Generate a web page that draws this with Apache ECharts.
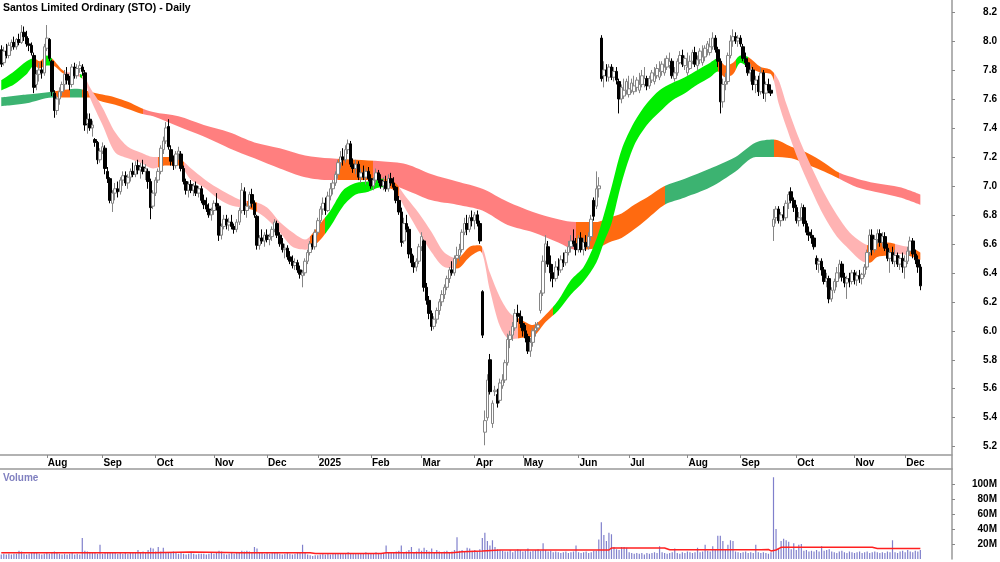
<!DOCTYPE html>
<html><head><meta charset="utf-8">
<script src="https://cdn.jsdelivr.net/npm/echarts@6/dist/echarts.min.js"></script>
<style>html,body{margin:0;padding:0;background:#fff}#c{width:1000px;height:562px}</style>
</head><body><div id="c"></div>
<script>
const monthLabels = ['Aug','Sep','Oct','Nov','Dec','2025','Feb','Mar','Apr','May','Jun','Jul','Aug','Sep','Oct','Nov','Dec'];
const monthStarts = [18,40,61,84,105,125,146,166,187,206,228,248,271,292,314,337,357];
const priceTicks = [5.2,5.4,5.6,5.8,6.0,6.2,6.4,6.6,6.8,7.0,7.2,7.4,7.6,7.8,8.0,8.2];
const volumeTicks = [20,40,60,80,100];

const opens = [
7.94,7.85,7.93,7.90,7.96,7.99,7.96,8.01,7.99,8.06,
8.03,7.98,7.97,7.90,7.70,7.77,7.80,7.78,7.95,8.01,
7.86,7.64,7.52,7.60,7.65,7.70,7.77,7.73,7.70,7.82,
7.76,7.81,7.82,7.78,7.43,7.46,7.40,7.32,7.30,7.18,
7.24,7.26,7.10,7.05,6.88,6.95,6.98,6.96,7.04,7.07,
7.02,7.06,7.10,7.08,7.14,7.11,7.13,7.10,7.10,7.03,
6.86,6.95,7.04,7.10,7.25,7.31,7.41,7.25,7.17,7.14,
7.22,7.22,7.12,7.03,6.97,7.01,6.97,7.00,6.95,6.98,
6.90,6.87,6.84,6.80,6.83,6.88,6.86,6.66,6.72,6.77,
6.73,6.75,6.72,6.70,6.75,6.83,6.96,6.83,6.86,6.94,
6.88,6.79,6.59,6.64,6.62,6.66,6.63,6.65,6.70,6.74,
6.66,6.60,6.56,6.57,6.51,6.48,6.45,6.47,6.42,6.38,
6.40,6.48,6.54,6.60,6.58,6.68,6.76,6.84,6.88,6.83,
6.93,6.98,7.02,7.08,7.16,7.20,7.18,7.25,7.29,7.15,
7.12,7.15,7.06,7.09,7.06,7.10,7.05,7.00,7.04,7.09,
7.04,7.00,7.03,6.98,7.05,7.02,6.99,6.90,6.82,6.62,
6.74,6.70,6.53,6.47,6.44,6.48,6.58,6.62,6.30,6.21,
6.12,6.03,6.08,6.14,6.20,6.25,6.30,6.36,6.42,6.40,
6.50,6.52,6.56,6.68,6.74,6.70,6.78,6.76,6.80,6.74,
6.27,5.30,5.40,5.80,5.36,5.58,5.56,5.52,5.62,5.66,
5.78,5.94,5.97,6.02,6.12,6.10,6.05,6.00,5.96,5.86,
5.92,6.00,6.02,6.14,6.26,6.48,6.58,6.46,6.40,6.36,
6.44,6.42,6.49,6.47,6.54,6.58,6.62,6.60,6.56,6.64,
6.56,6.61,6.58,6.65,6.90,6.86,6.98,8.02,7.76,7.80,
7.75,7.82,7.75,7.79,7.72,7.60,7.62,7.66,7.63,7.66,
7.65,7.68,7.66,7.70,7.70,7.74,7.69,7.73,7.72,7.76,
7.75,7.79,7.78,7.82,7.83,7.86,7.74,7.78,7.85,7.90,
7.83,7.78,7.81,7.86,7.92,7.83,7.87,7.85,7.89,7.94,
7.92,7.96,8.02,7.94,7.86,7.58,7.70,7.72,7.90,8.00,
8.03,8.00,8.02,7.96,7.88,7.85,7.78,7.80,7.70,7.73,
7.65,7.78,7.64,7.70,7.66,6.72,6.78,6.84,6.76,6.80,
6.78,6.88,6.96,6.90,6.85,6.76,6.78,6.85,6.74,6.68,
6.66,6.64,6.50,6.46,6.48,6.42,6.34,6.36,6.22,6.28,
6.34,6.40,6.46,6.37,6.33,6.36,6.34,6.40,6.35,6.38,
6.36,6.39,6.44,6.54,6.66,6.56,6.63,6.67,6.61,6.65,
6.57,6.50,6.54,6.48,6.52,6.46,6.50,6.44,6.48,6.55,
6.62,6.53,6.49,6.44];
const highs = [
7.97,7.96,7.98,7.99,8.01,8.03,8.02,8.05,8.11,8.10,
8.07,8.02,7.99,7.92,7.80,7.85,7.86,7.98,8.11,8.02,
7.87,7.66,7.62,7.68,7.72,7.80,7.82,7.76,7.84,7.85,
7.84,7.86,7.84,7.80,7.50,7.50,7.45,7.33,7.31,7.26,
7.30,7.28,7.13,7.06,6.97,7.02,7.03,7.06,7.10,7.10,
7.08,7.12,7.16,7.17,7.18,7.16,7.18,7.15,7.12,7.05,
6.97,7.06,7.12,7.28,7.34,7.44,7.46,7.28,7.21,7.24,
7.27,7.24,7.14,7.05,7.03,7.04,7.02,7.03,7.00,7.00,
6.94,6.92,6.88,6.85,6.90,6.95,6.88,6.74,6.80,6.80,
6.78,6.80,6.74,6.77,6.85,7.02,6.99,6.88,6.96,6.98,
6.90,6.80,6.66,6.70,6.68,6.70,6.67,6.72,6.77,6.76,
6.68,6.64,6.60,6.59,6.55,6.52,6.50,6.49,6.45,6.42,
6.50,6.56,6.62,6.66,6.70,6.78,6.86,6.92,6.92,6.96,
7.02,7.04,7.10,7.18,7.24,7.26,7.28,7.32,7.31,7.19,
7.18,7.17,7.12,7.14,7.12,7.13,7.08,7.06,7.12,7.11,
7.08,7.06,7.07,7.08,7.09,7.06,7.00,6.93,6.85,6.78,
6.80,6.72,6.57,6.52,6.50,6.60,6.68,6.63,6.33,6.24,
6.14,6.10,6.16,6.22,6.28,6.32,6.38,6.44,6.48,6.52,
6.58,6.60,6.70,6.78,6.80,6.80,6.83,6.82,6.83,6.76,
6.28,5.45,5.70,5.84,5.52,5.62,5.60,5.67,5.70,5.80,
5.98,6.00,6.06,6.15,6.18,6.14,6.10,6.04,5.98,5.95,
6.02,6.06,6.06,6.28,6.52,6.66,6.62,6.52,6.46,6.48,
6.50,6.52,6.54,6.56,6.62,6.66,6.70,6.64,6.66,6.68,
6.64,6.66,6.68,6.80,6.92,7.10,7.06,8.04,7.86,7.84,
7.84,7.84,7.82,7.82,7.74,7.70,7.74,7.74,7.76,7.74,
7.76,7.75,7.78,7.80,7.82,7.76,7.76,7.80,7.82,7.84,
7.86,7.86,7.88,7.90,7.92,7.88,7.82,7.88,7.93,7.94,
7.90,7.92,7.90,7.94,7.96,7.90,7.95,7.97,7.97,8.00,
8.02,8.06,8.04,7.96,7.88,7.74,7.78,7.92,8.04,8.08,
8.06,8.04,8.04,7.98,7.92,7.88,7.84,7.82,7.76,7.76,
7.82,7.80,7.72,7.74,7.70,6.84,6.86,6.86,6.82,6.86,
6.90,6.96,6.99,6.92,6.87,6.82,6.88,6.87,6.76,6.72,
6.70,6.66,6.52,6.50,6.50,6.44,6.40,6.38,6.30,6.36,
6.44,6.49,6.48,6.40,6.38,6.40,6.42,6.42,6.41,6.42,
6.40,6.46,6.56,6.70,6.70,6.66,6.70,6.70,6.68,6.68,
6.60,6.56,6.58,6.56,6.54,6.52,6.54,6.52,6.58,6.65,
6.64,6.56,6.52,6.46];
const lows = [
7.82,7.83,7.88,7.88,7.93,7.94,7.94,7.97,7.98,8.00,
7.96,7.93,7.90,7.64,7.66,7.72,7.74,7.76,7.93,7.86,
7.62,7.47,7.49,7.56,7.62,7.66,7.70,7.66,7.68,7.74,
7.74,7.78,7.76,7.38,7.36,7.38,7.34,7.27,7.15,7.16,
7.22,7.08,7.02,6.88,6.82,6.90,6.92,6.94,7.00,7.00,
6.98,7.03,7.06,7.06,7.08,7.05,7.08,7.04,6.98,6.77,
6.84,6.93,7.02,7.08,7.22,7.29,7.25,7.14,7.11,7.12,
7.18,7.10,7.01,6.94,6.92,6.95,6.93,6.93,6.92,6.88,
6.84,6.82,6.78,6.76,6.80,6.83,6.62,6.63,6.70,6.70,
6.69,6.70,6.67,6.68,6.73,6.81,6.80,6.78,6.84,6.85,
6.78,6.56,6.56,6.60,6.58,6.61,6.59,6.62,6.68,6.64,
6.58,6.54,6.50,6.49,6.46,6.43,6.42,6.40,6.36,6.30,
6.38,6.46,6.52,6.56,6.56,6.66,6.74,6.80,6.80,6.82,
6.90,6.94,7.00,7.05,7.12,7.14,7.16,7.22,7.13,7.09,
7.08,7.04,7.02,7.04,7.01,7.03,6.98,6.97,7.02,7.02,
6.98,6.97,6.96,6.96,7.00,6.97,6.88,6.80,6.58,6.60,
6.68,6.50,6.44,6.40,6.41,6.46,6.55,6.27,6.18,6.08,
6.00,6.01,6.05,6.11,6.17,6.22,6.28,6.33,6.38,6.38,
6.46,6.48,6.54,6.66,6.66,6.68,6.72,6.70,6.72,6.60,
5.95,5.21,5.38,5.56,5.33,5.55,5.47,5.50,5.60,5.64,
5.76,5.88,5.93,6.00,6.06,6.02,5.96,5.92,5.84,5.82,
5.89,5.96,6.00,6.12,6.24,6.40,6.44,6.34,6.30,6.34,
6.38,6.40,6.44,6.45,6.52,6.54,6.58,6.52,6.54,6.54,
6.52,6.55,6.56,6.62,6.76,6.84,6.92,7.72,7.68,7.72,
7.72,7.73,7.72,7.70,7.50,7.57,7.60,7.63,7.61,7.64,
7.63,7.65,7.64,7.68,7.68,7.66,7.67,7.71,7.70,7.74,
7.73,7.76,7.76,7.80,7.81,7.74,7.72,7.76,7.84,7.82,
7.80,7.76,7.80,7.84,7.82,7.80,7.84,7.83,7.86,7.90,
7.90,7.94,7.92,7.82,7.50,7.54,7.66,7.70,7.88,7.96,
7.98,7.96,7.96,7.86,7.82,7.76,7.72,7.66,7.64,7.62,
7.63,7.60,7.58,7.64,7.62,6.62,6.74,6.74,6.72,6.76,
6.76,6.84,6.88,6.82,6.74,6.72,6.76,6.72,6.66,6.62,
6.60,6.56,6.42,6.40,6.38,6.32,6.30,6.19,6.20,6.26,
6.30,6.36,6.34,6.30,6.22,6.30,6.32,6.32,6.31,6.33,
6.32,6.37,6.42,6.52,6.52,6.54,6.60,6.58,6.58,6.55,
6.48,6.40,6.46,6.44,6.44,6.42,6.40,6.36,6.46,6.52,
6.50,6.46,6.40,6.28];
const closes = [
7.84,7.93,7.90,7.97,7.99,7.96,8.01,7.99,8.06,8.03,
7.98,7.97,7.92,7.68,7.77,7.80,7.78,7.96,8.02,7.88,
7.65,7.52,7.60,7.65,7.70,7.77,7.73,7.70,7.82,7.76,
7.81,7.83,7.79,7.42,7.46,7.40,7.42,7.30,7.18,7.24,
7.27,7.12,7.05,6.90,6.95,6.98,6.96,7.04,7.07,7.02,
7.06,7.10,7.08,7.14,7.11,7.13,7.10,7.12,7.03,6.85,
6.95,7.04,7.10,7.26,7.31,7.40,7.27,7.17,7.14,7.22,
7.24,7.12,7.03,6.97,7.01,6.97,7.00,6.95,6.98,6.90,
6.87,6.84,6.80,6.83,6.88,6.86,6.66,6.72,6.77,6.73,
6.75,6.72,6.70,6.75,6.83,6.97,6.83,6.86,6.94,6.88,
6.80,6.59,6.64,6.62,6.66,6.63,6.65,6.70,6.75,6.66,
6.60,6.56,6.57,6.51,6.48,6.45,6.47,6.42,6.39,6.40,
6.48,6.54,6.60,6.58,6.68,6.76,6.84,6.88,6.83,6.93,
6.98,7.02,7.08,7.16,7.20,7.18,7.25,7.29,7.15,7.12,
7.15,7.06,7.09,7.06,7.10,7.05,7.00,7.04,7.09,7.04,
7.00,7.03,6.98,7.05,7.02,6.99,6.90,6.82,6.61,6.74,
6.70,6.53,6.47,6.44,6.48,6.58,6.65,6.30,6.21,6.12,
6.03,6.08,6.14,6.20,6.25,6.30,6.36,6.42,6.40,6.50,
6.52,6.56,6.68,6.74,6.70,6.78,6.76,6.80,6.74,6.62,
5.97,5.38,5.66,5.58,5.50,5.59,5.50,5.64,5.66,5.78,
5.94,5.97,6.03,6.12,6.10,6.05,6.00,5.95,5.86,5.92,
6.00,6.02,6.04,6.26,6.48,6.60,6.46,6.40,6.36,6.44,
6.42,6.49,6.47,6.54,6.58,6.62,6.60,6.56,6.64,6.56,
6.61,6.58,6.65,6.77,6.79,6.98,7.00,7.74,7.80,7.76,
7.82,7.75,7.79,7.73,7.60,7.68,7.66,7.72,7.67,7.71,
7.69,7.73,7.70,7.76,7.74,7.69,7.74,7.78,7.76,7.81,
7.79,7.84,7.82,7.88,7.86,7.76,7.78,7.86,7.90,7.84,
7.88,7.82,7.86,7.92,7.84,7.87,7.93,7.89,7.95,7.98,
7.96,8.02,7.94,7.86,7.58,7.70,7.72,7.90,8.00,8.03,
8.00,8.02,7.98,7.88,7.85,7.78,7.80,7.70,7.73,7.65,
7.78,7.64,7.70,7.66,7.64,6.77,6.84,6.76,6.80,6.78,
6.88,6.94,6.90,6.85,6.76,6.78,6.85,6.74,6.68,6.66,
6.64,6.58,6.46,6.48,6.42,6.34,6.36,6.22,6.28,6.34,
6.40,6.46,6.37,6.33,6.36,6.34,6.40,6.35,6.38,6.36,
6.39,6.44,6.54,6.66,6.56,6.63,6.67,6.61,6.65,6.57,
6.50,6.54,6.48,6.52,6.46,6.50,6.44,6.48,6.55,6.62,
6.53,6.49,6.44,6.31];

// volume in millions of shares
const volumes = [
6,7,6,7,6,7,7,11,10,7, 6,7,9,9,8,7,6,7,8,7, 8,10,8,7,6,7,6,7,8,6, 7,6,28,11,10,8,8,9,7,19,
7,8,9,8,9,8,7,8,7,8, 7,9,8,9,12,9,10,9,12,15, 14,10,16,10,15,9,8,9,10,8, 7,8,7,6,7,8,7,6,7,7,
7,6,7,8,7,8,11,10,7,6, 7,8,7,8,9,11,10,11,10,9, 16,14,9,8,7,8,7,8,9,8, 7,6,7,8,7,6,7,8,9,19,
8,6,5,4,5,5,6,7,6,7, 6,7,8,7,8,7,8,9,8,7, 8,7,8,7,9,8,7,8,9,8, 7,8,18,9,8,9,10,11,18,9,
10,12,16,9,10,14,11,15,12,10, 14,9,12,10,9,10,11,9,10,12, 29,11,12,10,15,14,11,12,10,13, 28,35,24,18,25,16,13,12,11,10,
10,12,9,11,13,12,10,11,14,10, 11,12,13,11,21,12,10,11,9,10, 9,8,9,10,8,9,10,18,9,8, 9,10,8,9,11,11,26,49,32,24,
35,33,16,13,12,16,16,15,9,8, 7,8,7,8,6,8,7,8,9,8, 17,9,8,7,8,9,14,8,7,9, 8,10,9,8,9,15,9,10,19,11,
10,17,12,31,31,24,12,19,25,24, 10,9,8,9,10,8,9,8,19,9, 8,9,8,7,9,109,40,14,24,27, 25,23,13,21,12,19,20,11,12,10,
11,10,12,10,17,11,12,13,10,9, 8,10,11,9,8,10,9,8,9,10, 8,9,10,8,9,10,9,8,9,8, 10,9,25,9,8,10,11,9,12,10,
9,11,10,12];
// volume moving average (M) read at points [day, value]
const volumeAvg = [[0,8.4],[60,8.4],[75,9.2],[95,8.4],[122,8.4],[124,7.4],[150,7.4],[152,8.4],[178,8.4],[182,9.6],[190,10.7],[197,12],[240,12],[241,14.7],[262,14.7],[264,12.4],[300,12.4],[303,12.8],[304,10.7],[306,12],[308,15.6],[344,15.6],[346,14],[363,14]];

// ribbons [day, upper, lower]
const shortRibbon = [[0,7.73,7.66],[5,7.79,7.70],[10,7.86,7.77],[13,7.88,7.83],[15,7.86,7.81],[18,7.90,7.83],[20,7.88,7.83],[25,7.79,7.77],[30,7.78,7.76],[33,7.75,7.72],[35,7.68,7.61],[40,7.54,7.42],[45,7.37,7.23],[50,7.27,7.19],[55,7.23,7.16],[60,7.20,7.12],[65,7.20,7.14],[70,7.19,7.14],[75,7.12,7.04],[80,7.05,6.99],[85,6.99,6.92],[90,6.94,6.87],[95,6.90,6.85],[100,6.89,6.83],[105,6.85,6.77],[110,6.75,6.68],[115,6.68,6.58],[120,6.63,6.56],[125,6.72,6.61],[130,6.83,6.72],[135,6.97,6.86],[140,7.02,6.94],[145,7.03,6.96],[150,7.05,6.99],[155,7.03,6.97],[160,6.92,6.83],[165,6.81,6.68],[170,6.68,6.54],[175,6.54,6.44],[180,6.50,6.43],[185,6.58,6.51],[189,6.59,6.55],[193,6.40,6.28],[197,6.23,6.03],[201,6.12,5.94],[205,6.08,5.95],[210,6.04,5.96],[215,6.11,6.06],[220,6.21,6.14],[225,6.35,6.25],[230,6.44,6.34],[235,6.63,6.47],[238,6.80,6.61],[241,6.99,6.74],[245,7.25,7.02],[250,7.44,7.28],[255,7.57,7.42],[260,7.66,7.51],[265,7.71,7.59],[270,7.75,7.64],[275,7.80,7.70],[280,7.85,7.75],[283,7.88,7.79],[286,7.83,7.75],[289,7.85,7.77],[292,7.90,7.85],[295,7.89,7.82],[300,7.82,7.78],[304,7.80,7.77],[307,7.73,7.57],[310,7.57,7.41],[315,7.33,7.17],[320,7.13,6.97],[325,6.95,6.79],[330,6.80,6.65],[335,6.68,6.56],[340,6.61,6.48],[343,6.59,6.47],[346,6.61,6.51],[350,6.61,6.52],[355,6.59,6.53],[360,6.57,6.51],[363,6.54,6.49]];
const longRibbon = [[0,7.61,7.55],[10,7.63,7.57],[20,7.65,7.61],[30,7.67,7.61],[35,7.65,7.61],[40,7.63,7.58],[45,7.61,7.56],[50,7.58,7.53],[55,7.54,7.50],[60,7.51,7.48],[70,7.48,7.41],[80,7.42,7.34],[90,7.37,7.26],[100,7.30,7.19],[110,7.26,7.12],[120,7.21,7.06],[130,7.19,7.04],[140,7.18,7.04],[150,7.17,7.03],[160,7.15,6.97],[170,7.08,6.90],[180,7.03,6.87],[190,6.98,6.83],[200,6.89,6.73],[210,6.82,6.68],[220,6.77,6.61],[227,6.75,6.56],[235,6.75,6.57],[240,6.78,6.61],[245,6.81,6.64],[250,6.87,6.70],[255,6.92,6.77],[262,7.00,6.87],[270,7.05,6.92],[280,7.12,6.99],[290,7.20,7.10],[298,7.30,7.20],[305,7.32,7.20],[312,7.27,7.19],[318,7.23,7.15],[325,7.16,7.10],[331,7.09,7.05],[338,7.05,6.99],[345,7.02,6.96],[355,6.99,6.92],[363,6.94,6.87]];
// trend phases [first day, state]
const shortPhases = [[0,'up'],[13,'mix'],[17,'up'],[20,'mix'],[25,'down'],[31,'up'],[32,'down'],[62,'mix'],[72,'down'],[97,'mix'],[101,'down'],[122,'mix'],[128,'up'],[151,'mix'],[157,'down'],[179,'mix'],[190,'down'],[204,'mix'],[218,'up'],[283,'mix'],[290,'up'],[295,'mix'],[305,'down'],[342,'mix'],[353,'down'],[358,'mix']];
const longPhases = [[0,'up'],[21,'mix'],[27,'up'],[32,'mix'],[56,'down'],[133,'mix'],[147,'down'],[227,'mix'],[262,'up'],[305,'mix'],[331,'down']];

const shortColors = {up:'#00ee00', down:'#ffb3b3', mix:'#ff6a10'};
const longColors = {up:'#3cb371', down:'#ff7f7f', mix:'#ff6a10'};

const slotCount = 376;
const FONT = 'Liberation Sans, Arial, sans-serif';
const xCats = Array.from({length: slotCount}, () => '');
monthStarts.forEach((s, k) => { xCats[s] = monthLabels[k]; });
const monthSet = new Set(monthStarts);
const candleData = opens.map((o, i) => [o, closes[i], lows[i], highs[i]]);
const lowerOf = rows => rows.map(r => [r[0], r[2]]);
const widthOf = rows => rows.map(r => [r[0], +(r[1] - r[2]).toFixed(4)]);
const pieces = (phases, colors) => phases.map((p, k) => ({
  gte: p[0], lt: k + 1 < phases.length ? phases[k + 1][0] : slotCount, color: colors[p[1]]
}));

const chart = echarts.init(document.getElementById('c'), null, {renderer: 'canvas'});
const grayLine = {color: '#999999', width: 1.5};
const labelBase = {color: '#000', fontSize: 10, fontWeight: 'bold', fontFamily: FONT};
const ribbonBase = {type: 'line', xAxisIndex: 0, yAxisIndex: 0, symbol: 'none', showSymbol: false,
  smooth: 0.3, silent: true, animation: false};

chart.setOption({
  animation: false,
  backgroundColor: '#ffffff',
  title: [
    {text: 'Santos Limited Ordinary (STO) - Daily', left: 3, top: 3, padding: 0,
     textStyle: {fontSize: 10.5, fontWeight: 'bold', color: '#000', fontFamily: FONT}},
    {text: 'Volume', left: 3, top: 473, padding: 0,
     textStyle: {fontSize: 10, fontWeight: 'bold', color: '#8080c0', fontFamily: FONT}}
  ],
  grid: [
    {left: 0, right: 48, top: 0, bottom: 93, outerBoundsMode: 'none', containLabel: false},
    {left: 0, right: 48, top: 469, bottom: 3, outerBoundsMode: 'none', containLabel: false}
  ],
  xAxis: [
    {type: 'category', gridIndex: 0, data: xCats, boundaryGap: true, position: 'bottom', offset: -14,
     axisLine: {show: true, onZero: false, lineStyle: grayLine},
     axisTick: {show: true, alignWithLabel: true, length: 3, interval: (i) => monthSet.has(i), lineStyle: {color: '#888'}},
     axisLabel: Object.assign({interval: 0, align: 'left', margin: 3, padding: [0, 0, 0, 1]}, labelBase),
     splitLine: {show: false}},
    {type: 'category', gridIndex: 1, data: xCats, boundaryGap: true, position: 'top',
     axisLine: {show: true, onZero: false, lineStyle: grayLine},
     axisTick: {show: false}, axisLabel: {show: false}, splitLine: {show: false}}
  ],
  yAxis: [
    {type: 'value', gridIndex: 0, position: 'right', min: 5.0461, max: 8.2828, scale: true,
     axisLine: {show: true, lineStyle: grayLine},
     axisTick: {show: true, length: 3, customValues: priceTicks, lineStyle: {color: '#888'}},
     axisLabel: Object.assign({customValues: priceTicks, formatter: v => v.toFixed(1), align: 'right', margin: 45}, labelBase),
     splitLine: {show: false}},
    {type: 'value', gridIndex: 1, position: 'right', min: 0, max: 120,
     axisLine: {show: true, lineStyle: grayLine},
     axisTick: {show: true, length: 3, customValues: volumeTicks, lineStyle: {color: '#888'}},
     axisLabel: Object.assign({customValues: volumeTicks, formatter: v => v + 'M', align: 'right', margin: 45}, labelBase),
     splitLine: {show: false}}
  ],
  visualMap: [
    {type: 'piecewise', show: false, dimension: 0, seriesIndex: 1, pieces: pieces(longPhases, longColors)},
    {type: 'piecewise', show: false, dimension: 0, seriesIndex: 3, pieces: pieces(shortPhases, shortColors)}
  ],
  series: [
    Object.assign({}, ribbonBase, {name: 'longLow', stack: 'long', data: lowerOf(longRibbon), lineStyle: {opacity: 0}, z: 1}),
    Object.assign({}, ribbonBase, {name: 'longBand', stack: 'long', data: widthOf(longRibbon), lineStyle: {opacity: 0, width: 0}, areaStyle: {opacity: 1}, z: 1}),
    Object.assign({}, ribbonBase, {name: 'shortLow', stack: 'short', data: lowerOf(shortRibbon), lineStyle: {opacity: 0}, z: 2}),
    Object.assign({}, ribbonBase, {name: 'shortBand', stack: 'short', data: widthOf(shortRibbon), lineStyle: {opacity: 0, width: 0}, areaStyle: {opacity: 1}, z: 2}),
    {type: 'candlestick', xAxisIndex: 0, yAxisIndex: 0, data: candleData, barWidth: 3, z: 5, silent: true,
     itemStyle: {color: '#ffffff', color0: '#000000', borderColor: '#858585', borderColor0: '#000000', borderWidth: 1}},
    {type: 'bar', xAxisIndex: 1, yAxisIndex: 1, data: volumes, barWidth: 1.2, silent: true,
     itemStyle: {color: '#8080cc'}},
    {type: 'line', xAxisIndex: 1, yAxisIndex: 1, data: volumeAvg, symbol: 'none', silent: true, z: 4,
     lineStyle: {color: '#ff2020', width: 1.5}}
  ]
});
</script>
</body></html>
